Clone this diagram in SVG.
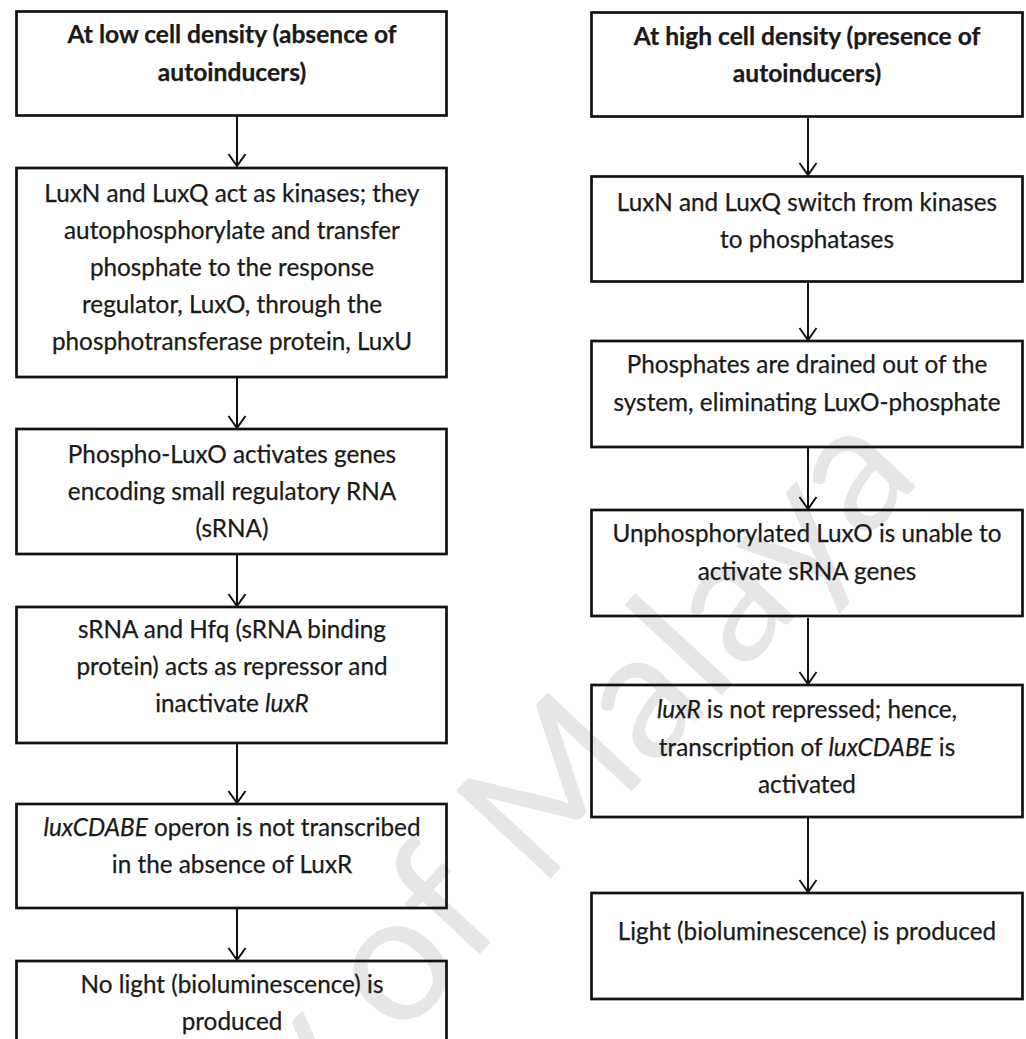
<svg xmlns="http://www.w3.org/2000/svg" width="1026" height="1039" viewBox="0 0 1026 1039">
<defs>
<style>
.box{fill:none;stroke:#111;stroke-width:2.7}
.t{font-family:Lato,"Open Sans","Liberation Sans",sans-serif;font-size:24.3px;fill:#1a1a1a;stroke:#1a1a1a;stroke-width:0.25;text-anchor:middle}
.b{font-weight:bold;font-size:24.6px}
.i{font-style:italic}
.ln{stroke:#111;stroke-width:2;fill:none}
.wm{font-family:Lato,"Liberation Sans",sans-serif;font-size:180px;fill:#e6e6e6}
</style>
<marker id="ah" viewBox="0 0 16 20" refX="14" refY="10" markerWidth="16" markerHeight="20" markerUnits="userSpaceOnUse" orient="auto">
<path d="M2,1.5 L14,10 L2,18.5" fill="none" stroke="#111" stroke-width="2"/>
</marker>
</defs>
<rect width="1026" height="1039" fill="#fff"/>
<text class="wm" transform="translate(924,478) rotate(-47)" text-anchor="end">University of Malaya</text>

<g id="connectors">
<line class="ln" x1="237" y1="116" x2="237" y2="166" marker-end="url(#ah)"/>
<line class="ln" x1="237" y1="378" x2="237" y2="428" marker-end="url(#ah)"/>
<line class="ln" x1="237" y1="555" x2="237" y2="606" marker-end="url(#ah)"/>
<line class="ln" x1="237" y1="744" x2="237" y2="803" marker-end="url(#ah)"/>
<line class="ln" x1="237" y1="909" x2="237" y2="960" marker-end="url(#ah)"/>
<line class="ln" x1="808" y1="118" x2="808" y2="175" marker-end="url(#ah)"/>
<line class="ln" x1="808" y1="283" x2="808" y2="340" marker-end="url(#ah)"/>
<line class="ln" x1="808" y1="448" x2="808" y2="509" marker-end="url(#ah)"/>
<line class="ln" x1="808" y1="618" x2="808" y2="684" marker-end="url(#ah)"/>
<line class="ln" x1="808" y1="818" x2="808" y2="892" marker-end="url(#ah)"/>
</g>

<g id="L1">
<rect class="box" x="16.5" y="11.5" width="430" height="104"/>
<text class="t b" x="232" y="43">At low cell density (absence of</text>
<text class="t b" x="232" y="81">autoinducers)</text>
</g>
<g id="L2">
<rect class="box" x="16.5" y="168" width="430" height="209"/>
<text class="t" x="232" y="202">LuxN and LuxQ act as kinases; they</text>
<text class="t" x="232" y="239">autophosphorylate and transfer</text>
<text class="t" x="232" y="276">phosphate to the response</text>
<text class="t" x="232" y="313">regulator, LuxO, through the</text>
<text class="t" x="232" y="350">phosphotransferase protein, LuxU</text>
</g>
<g id="L3">
<rect class="box" x="16.5" y="429" width="430" height="125"/>
<text class="t" x="232" y="463">Phospho-LuxO activates genes</text>
<text class="t" x="232" y="500">encoding small regulatory RNA</text>
<text class="t" x="232" y="537">(sRNA)</text>
</g>
<g id="L4">
<rect class="box" x="16.5" y="607" width="430" height="136"/>
<text class="t" x="232" y="638">sRNA and Hfq (sRNA binding</text>
<text class="t" x="232" y="675">protein) acts as repressor and</text>
<text class="t" x="232" y="712">inactivate <tspan class="i">luxR</tspan></text>
</g>
<g id="L5">
<rect class="box" x="16.5" y="804" width="430" height="104"/>
<text class="t" x="232" y="836"><tspan class="i">luxCDABE</tspan> operon is not transcribed</text>
<text class="t" x="232" y="873">in the absence of LuxR</text>
</g>
<g id="L6">
<rect class="box" x="16.5" y="961" width="430" height="110"/>
<text class="t" x="232" y="993">No light (bioluminescence) is</text>
<text class="t" x="232" y="1030">produced</text>
</g>

<g id="R1">
<rect class="box" x="591.5" y="12.5" width="431" height="104"/>
<text class="t b" x="807" y="45">At high cell density (presence of</text>
<text class="t b" x="807" y="82">autoinducers)</text>
</g>
<g id="R2">
<rect class="box" x="591.5" y="176.5" width="431" height="105"/>
<text class="t" x="807" y="211">LuxN and LuxQ switch from kinases</text>
<text class="t" x="807" y="248">to phosphatases</text>
</g>
<g id="R3">
<rect class="box" x="591.5" y="341" width="431" height="106"/>
<text class="t" x="807" y="373">Phosphates are drained out of the</text>
<text class="t" x="807" y="411">system, eliminating LuxO-phosphate</text>
</g>
<g id="R4">
<rect class="box" x="591.5" y="510" width="431" height="106"/>
<text class="t" x="807" y="542">Unphosphorylated LuxO is unable to</text>
<text class="t" x="807" y="580">activate sRNA genes</text>
</g>
<g id="R5">
<rect class="box" x="591.5" y="685" width="431" height="132"/>
<text class="t" x="807" y="718"><tspan class="i">luxR</tspan> is not repressed; hence,</text>
<text class="t" x="807" y="756">transcription of <tspan class="i">luxCDABE</tspan> is</text>
<text class="t" x="807" y="793">activated</text>
</g>
<g id="R6">
<rect class="box" x="591.5" y="893" width="431" height="106"/>
<text class="t" x="807" y="940">Light (bioluminescence) is produced</text>
</g>
</svg>
